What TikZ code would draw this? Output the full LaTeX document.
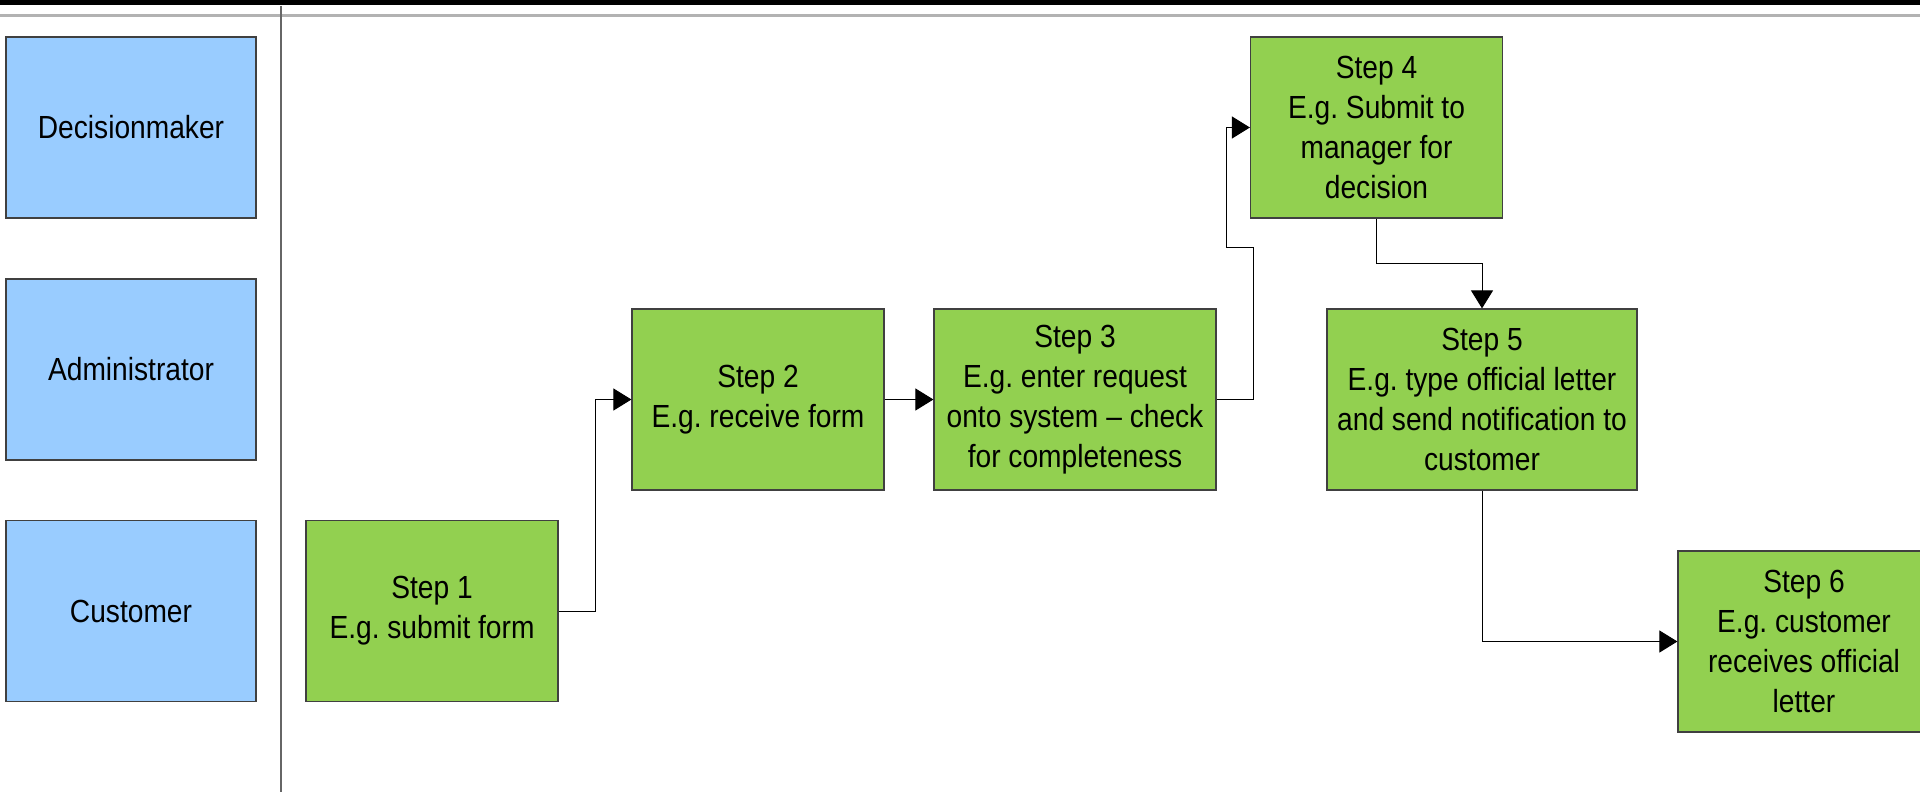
\documentclass[tikz,border=0pt]{standalone}
\usepackage{fontspec}
\setmainfont{Liberation Sans}[FakeStretch=0.88]
\usetikzlibrary{arrows.meta,positioning}
\definecolor{laneblue}{HTML}{99CCFF}
\definecolor{stepgreen}{HTML}{92D050}
\definecolor{edgegray}{HTML}{404040}
\frenchspacing

\begin{document}
\begin{tikzpicture}[
    x=0.5pt, y=-0.5pt,
    font=\fontsize{16pt}{20pt}\selectfont,
    >={Triangle[length=9pt, width=11pt]},
    lane/.style={draw=edgegray, fill=laneblue, line width=0.6pt, minimum width=125pt, minimum height=90.5pt, align=center, inner sep=0pt},
    stepbox/.style={draw=edgegray, fill=stepgreen, line width=0.6pt, minimum width=126pt, minimum height=90.5pt, align=center, inner sep=0pt},
    flow/.style={->, black, line width=0.5pt},
]
    \useasboundingbox (0,0) rectangle (1920,792);

    % --- Header and lane divider ---
    \fill[black] (0,0) rectangle (1920,5);
    \draw[gray!60, line width=1.5pt] (0,15.5) -- (1920,15.5);
    \draw[gray!80!black, line width=0.75pt] (281,6) -- (281,792);

    % --- Lanes ---
    \node[lane] (decider) at (131,127.5) {Decisionmaker};
    \node[lane] (admin) at (131,369.5) {Administrator};
    \node[lane] (customer) at (131,611) {Customer};

    % --- Steps ---
    \node[stepbox] (s1) at (432,611) {Step 1\\E.g. submit form};
    \node[stepbox] (s2) at (758,399.5) {Step 2\\E.g. receive form};
    \node[stepbox, minimum width=141pt] (s3) at (1075,399.5) {Step 3\\E.g. enter request\\onto system -- check\\for completeness};
    \node[stepbox] (s4) at (1376.5,127.5) {Step 4\\E.g. Submit to\\manager for\\decision};
    \node[stepbox, minimum width=155pt] (s5) at (1482,399.5) {Step 5\\E.g. type official letter\\and send notification to\\customer};
    \node[stepbox] (s6) at (1804,641.5) {Step 6\\E.g. customer\\receives official\\letter};

    % --- Connectors ---
    \draw[flow] (s1.east) -- ++(37,0) |- (s2.west);
    \draw[flow] (s2.east) -- (s3.west);
    % Step 3 goes up to the decisionmaker lane
    \draw[flow] (s3.east) -- ++(37,0) -- ++(0,-152) -- ++(-27,0) |- (s4.west);
    \draw[flow] (s4.south) -- ++(0,45) -| (s5.north);
    \draw[flow] (s5.south) |- (s6.west);

\end{tikzpicture}
\end{document}
